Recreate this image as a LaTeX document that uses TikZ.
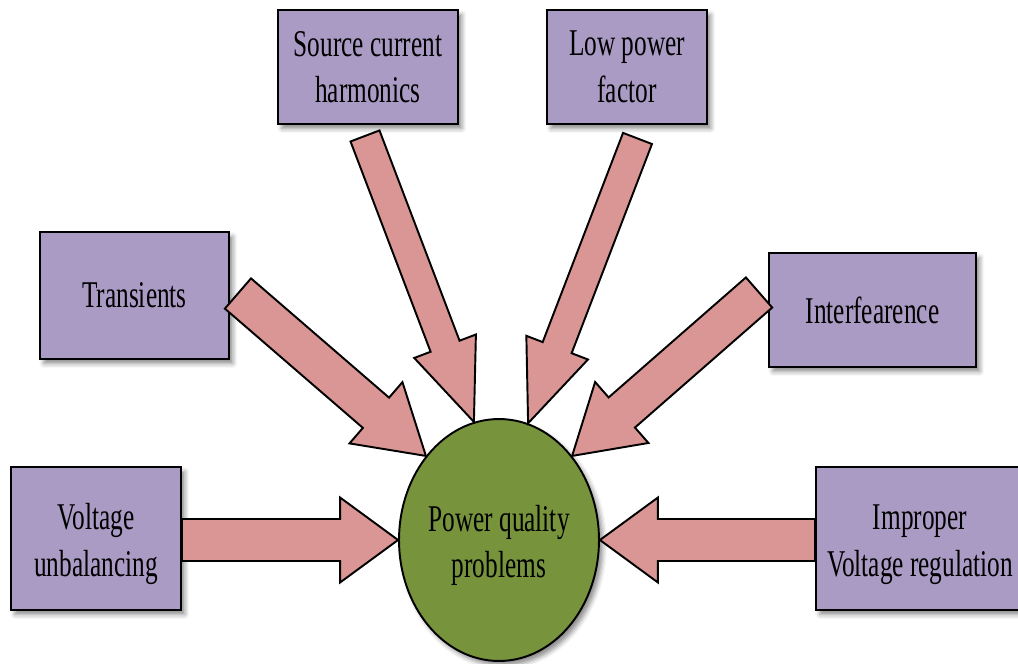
\documentclass[tikz,border=0pt]{standalone}
\usepackage{fontspec}
\setmainfont[FakeStretch=0.67]{Liberation Serif}
\usetikzlibrary{calc,shadows.blur,shapes.geometric}

\definecolor{boxfill}{RGB}{170,155,196}
\definecolor{arrowfill}{RGB}{217,150,148}
\definecolor{hubfill}{RGB}{119,147,60}

\tikzset{
  softshadow/.style={blur shadow={shadow xshift=2.2pt, shadow yshift=-2.6pt,
      shadow blur radius=2.6pt, shadow opacity=45}},
  causebox/.style={draw=black, line width=1.1pt, fill=boxfill, softshadow,
      align=center, inner sep=0pt, font=\fontsize{21.5}{26.5}\selectfont},
  hub/.style={ellipse, draw=black, line width=1.1pt, fill=hubfill, softshadow,
      inner sep=0pt, minimum width=4cm, minimum height=4.84cm,
      font=\fontsize{21.5}{26.5}\selectfont},
  fatarrow/.style={draw=black, line width=1.1pt, fill=arrowfill, line join=miter}
}

% two centred lines, drawn lower by the given amount without changing the box size
\newcommand\lowlines[3]{\raisebox{-#3}[\height][\depth]{\begin{tabular}{@{}c@{}}#1\\#2\end{tabular}}}

% block arrow: tail, tip, shaft half width, head half width, head length
\newcommand\causearrow[5]{%
  \coordinate (hb) at ($(#2)!#5!(#1)$);
  \draw[fatarrow] ($(#1)!#3!90:(#2)$) -- ($(hb)!#3!90:(#2)$)
    -- ($(hb)!#4!90:(#2)$) -- (#2) -- ($(hb)!#4!-90:(#2)$)
    -- ($(hb)!#3!-90:(#2)$) -- ($(#1)!#3!-90:(#2)$) -- cycle;}

\begin{document}
\begin{tikzpicture}[x=0.02cm, y=-0.02cm]
  \useasboundingbox (0,0) rectangle (1018,663);
  \clip (0,0) rectangle (1018,663);

  % causes
  \node[causebox, minimum width=3.6cm, minimum height=2.28cm] (src) at (368,67)
    {Source current\\harmonics};
  \node[causebox, minimum width=3.2cm, minimum height=2.28cm] (lpf) at (627,67)
    {Low power\\factor};
  \node[causebox, minimum width=3.78cm, minimum height=2.54cm] (tr) at (134.5,295.5)
    {Transients};
  \node[causebox, minimum width=4.14cm, minimum height=2.28cm] (itf) at (872.5,310)
    {Interfearence};
  \node[causebox, minimum width=3.4cm, minimum height=2.86cm] (vu) at (96,538.5)
    {\lowlines{Voltage}{unbalancing}{3pt}};
  \node[causebox, minimum width=4.16cm, minimum height=2.86cm] (ivr) at (920,538.5)
    {\lowlines{Improper}{Voltage regulation}{3pt}};

  % central problem
  \node[hub] (pqp) at (499,540) {\lowlines{Power quality}{problems}{3pt}};

  % arrow tails next to the cause boxes
  \coordinate (t-src) at ($(src.south)+(-3,11)$);
  \coordinate (t-lpf) at ($(lpf.south)+(10.5,13.5)$);
  \coordinate (t-tr)  at ($(tr.east)+(8,-2)$);
  \coordinate (t-itf) at ($(itf.west)+(-9,-17.5)$);
  \coordinate (t-vu)  at (vu.east |- pqp.west);
  \coordinate (t-ivr) at (ivr.west |- pqp.east);

  % arrows into the central ellipse
  \causearrow{t-vu}{pqp.west}{0.42cm}{0.85cm}{1.16cm}
  \causearrow{t-ivr}{pqp.east}{0.42cm}{0.85cm}{1.16cm}
  \causearrow{t-tr}{pqp.131}{0.4cm}{0.81cm}{1.32cm}
  \causearrow{t-itf}{pqp.49}{0.4cm}{0.81cm}{1.32cm}
  \causearrow{t-src}{pqp.102}{0.31cm}{0.66cm}{1.62cm}
  \causearrow{t-lpf}{pqp.76}{0.31cm}{0.66cm}{1.62cm}
\end{tikzpicture}
\end{document}
